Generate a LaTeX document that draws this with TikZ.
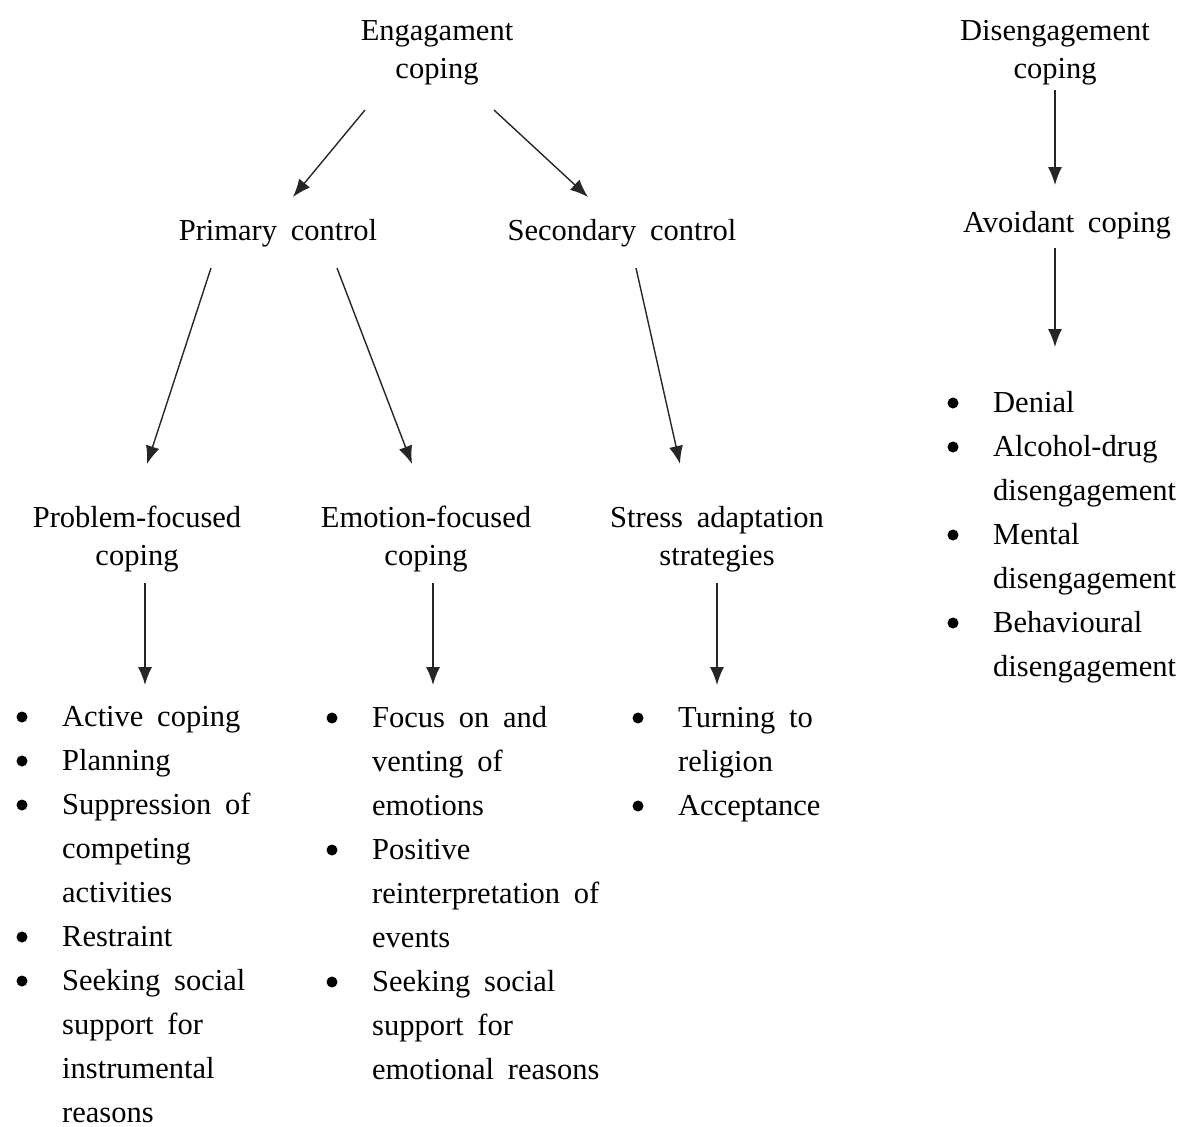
\documentclass[tikz,border=0pt]{standalone}
\usepackage{fontspec}
\setmainfont{Liberation Serif}[WordSpace=1.8]
\usepackage{tikz}
\usetikzlibrary{positioning,arrows.meta,calc}
\tikzset{
heading/.style={
align=center,
inner sep=0pt,
font=\fontsize{30.5}{38}\selectfont
},
itemlist/.style={
anchor=base west,
inner sep=0pt,
font=\fontsize{30.5}{44}\selectfont
},
arrow/.style={
-{Latex[length=18pt,width=14pt]},
line width=1.4pt,
black!85
}
}
\newcommand{\lines}[1]{\begin{tabular}[t]{@{}l@{}}#1\end{tabular}}

\begin{document}
\begin{tikzpicture}[x=1pt,y=-1pt]
\useasboundingbox (0,0) rectangle (1184,1127);
% headings
\node[heading](eng) at (437,53){Engagament\\coping};
\node[heading](dis) at (1055,53){Disengagement\\coping};
\node[heading](prim) at (278,233){Primary control};
\node[heading](sec) at (622,233){Secondary control};
\node[heading](avo) at (1067,225){Avoidant coping};
\node[heading](prob) at (137,539){Problem-focused\\coping};
\node[heading](emo) at (426,539){Emotion-focused\\coping};
\node[heading](stress) at (717,539){Stress adaptation\\strategies};

% lists
\node[itemlist](plist) at (62,726){\lines{Active coping\\Planning\\Suppression of\\competing\\activities\\Restraint\\Seeking social\\support for\\instrumental\\reasons}};
\node[itemlist](elist) at (372,727){\lines{Focus on and\\venting of\\emotions\\Positive\\reinterpretation of\\events\\Seeking social\\support for\\emotional reasons}};
\node[itemlist](slist) at (678,727){\lines{Turning to\\religion\\Acceptance}};
\node[itemlist](dlist) at (993,412){\lines{Denial\\Alcohol-drug\\disengagement\\Mental\\disengagement\\Behavioural\\disengagement}};

% bullets
\foreach \l/\r in {plist/0,plist/1,plist/2,plist/5,plist/6,elist/0,elist/3,elist/6,slist/0,slist/2,dlist/0,dlist/1,dlist/3,dlist/5}
\fill ($(\l.base west)+(-40,{\r*44-9})$) circle (5.5pt);

% arrows
\draw[arrow]($(eng)+(-72,57)$)--($(prim)+(15,-36)$);
\draw[arrow]($(eng)+(57,57)$)--($(sec)+(-34,-36)$);
\draw[arrow]($(prim)+(-67,35)$)--($(prob)+(10,-75)$);
\draw[arrow]($(prim)+(59,35)$)--($(emo)+(-14,-75)$);
\draw[arrow]($(sec)+(14,35)$)--($(stress)+(-37,-75)$);
\draw[arrow]($(prob)+(8,44)$)--($(prob |- elist.north)+(8,-11)$);
\draw[arrow]($(emo)+(7,44)$)--($(emo |- elist.north)+(7,-11)$);
\draw[arrow]($(stress)+(0,44)$)--($(stress |- slist.north)+(0,-11)$);
\draw[arrow]($(dis)+(0,37)$)--($(dis |- avo)+(0,-40)$);
\draw[arrow]($(dis |- avo)+(0,23)$)--($(dis |- dlist.north)+(0,-34)$);
\end{tikzpicture}
\end{document}
